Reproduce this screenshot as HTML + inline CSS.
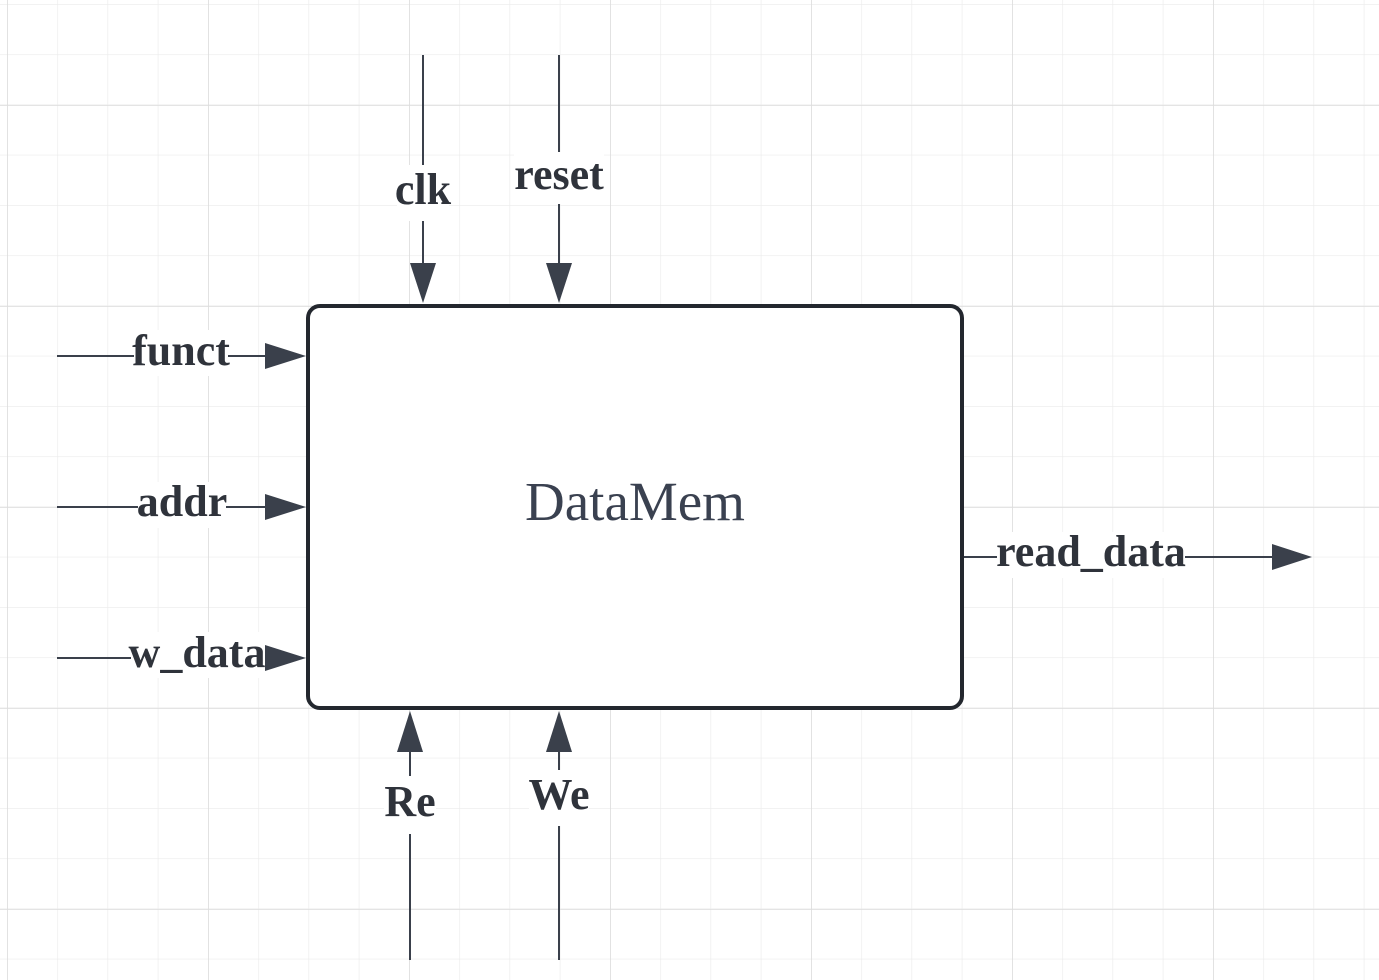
<!DOCTYPE html>
<html><head><style>body{margin:0;background:#fff}svg{display:block}</style></head><body>
<svg width="1379" height="980" xmlns="http://www.w3.org/2000/svg">
<defs>
<pattern id="g" x="7" y="4" width="50.25" height="50.25" patternUnits="userSpaceOnUse">
<path d="M0 0V50.25M0 0H50.25" stroke="#ebebeb" stroke-width="1.3" fill="none"/>
</pattern>
<pattern id="G" x="7" y="105" width="201" height="201" patternUnits="userSpaceOnUse">
<path d="M0 0V201M0 0H201" stroke="#dcdcdc" stroke-width="1.6" fill="none"/>
</pattern>
</defs>
<rect width="1379" height="980" fill="url(#g)"/>
<rect width="1379" height="980" fill="url(#G)"/>
<g stroke="#3a404b" stroke-width="2" fill="none">
<path d="M423 55V265M559 55V265M57 356H268M57 507H268M57 658H268M962 557H1272M410 750V960M559 750V960"/>
</g>
<g fill="#3a404b">
<polygon points="410,263 436,263 423,303"/>
<polygon points="546,263 572,263 559,303"/>
<polygon points="265,343 265,369 306,356"/>
<polygon points="265,494 265,520 306,507"/>
<polygon points="265,645 265,671 306,658"/>
<polygon points="1272,544 1272,570 1312,557"/>
<polygon points="397,752 423,752 410,711"/>
<polygon points="546,752 572,752 559,711"/>
</g>
<rect x="308" y="306" width="654" height="402" rx="12" fill="#fff" stroke="#23272e" stroke-width="4"/>
<g font-family="Liberation Serif, serif" font-weight="bold" font-size="44" fill="#2f333b" text-anchor="middle">
<rect x="397" y="165" width="52" height="56" fill="#fff"/>
<text x="423" y="204">clk</text>
<rect x="514" y="152" width="90" height="52" fill="#fff"/>
<text x="559" y="189">reset</text>
<rect x="134" y="330" width="94" height="46" fill="#fff"/>
<text x="181" y="365">funct</text>
<rect x="138" y="482" width="88" height="46" fill="#fff"/>
<text x="182" y="516">addr</text>
<rect x="131" y="632" width="134" height="46" fill="#fff"/>
<text x="197" y="667">w_data</text>
<rect x="997" y="532" width="188" height="46" fill="#fff"/>
<text x="1091" y="566">read_data</text>
<rect x="384" y="776" width="52" height="58" fill="#fff"/>
<text x="410" y="816">Re</text>
<rect x="529" y="770" width="60" height="56" fill="#fff"/>
<text x="559" y="809">We</text>
</g>
<text x="635" y="520" font-family="Liberation Serif, serif" font-size="55" fill="#3a4150" text-anchor="middle">DataMem</text>
</svg>
</body></html>
